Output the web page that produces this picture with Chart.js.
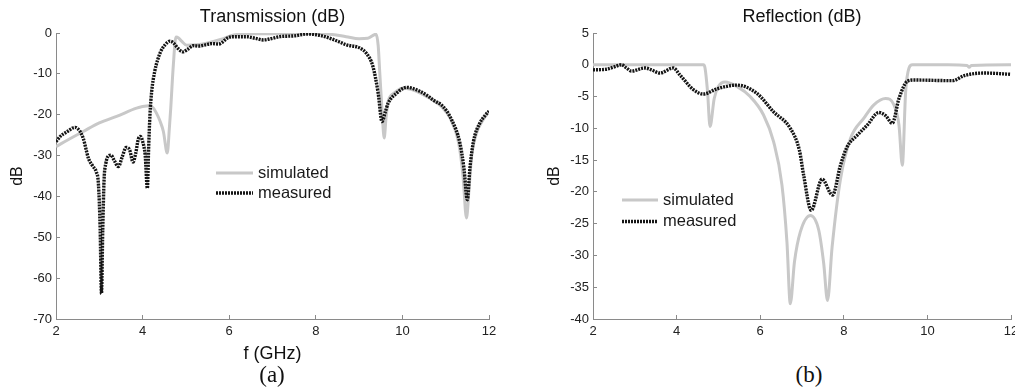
<!DOCTYPE html>
<html>
<head>
<meta charset="utf-8">
<script src="https://cdn.jsdelivr.net/npm/chart.js@4.4.1/dist/chart.umd.min.js"></script>
<style>
  html, body { margin: 0; padding: 0; background: #fff; }
  #wrap { position: relative; width: 1015px; height: 388px; overflow: hidden; }
  canvas { position: absolute; top: 0; }
  #chartA { left: 0; }
  #chartB { left: 537px; }
  .panel { position: absolute; top: 362px; width: 60px; text-align: center;
           font-family: 'Liberation Serif', 'Times New Roman', serif; font-size: 23px; color: #111; }
</style>
</head>
<body>
<div id="wrap">
  <canvas id="chartA" width="500" height="365"></canvas>
  <canvas id="chartB" width="478" height="340"></canvas>
  <div class="panel" style="left:242px">(a)</div>
  <div class="panel" style="left:779px">(b)</div>
</div>
<script>
// Transmission (dB) - panel (a)
const transSimFreq = [2.0, 2.3, 2.63, 3.0, 3.4, 3.86, 4.0, 4.17, 4.25, 4.32, 4.4, 4.48, 4.57, 4.62, 4.65, 4.71, 4.77, 4.83, 4.9, 5.02, 5.25, 5.48, 5.8, 6.1, 6.5, 7.0, 7.5, 8.0, 8.33, 8.7, 9.0, 9.2, 9.39, 9.44, 9.48, 9.53, 9.58, 9.62, 9.67, 9.8, 10.0, 10.2, 10.5, 10.7, 10.9, 11.1, 11.3, 11.4, 11.48, 11.54, 11.6, 11.71, 11.85, 12.0];
const transSimDb = [-27.8, -26.0, -24.1, -22.0, -20.4, -18.4, -18.0, -17.8, -18.4, -19.6, -21.5, -24.1, -29.4, -23.0, -18.4, -7.8, -1.0, -1.2, -2.0, -3.0, -2.9, -2.5, -1.6, -0.5, -0.2, -0.2, -0.1, -0.1, -0.3, -0.9, -1.4, -1.3, -0.3, -3.0, -10.2, -19.0, -25.7, -21.0, -16.8, -14.8, -13.5, -13.8, -15.2, -16.4, -18.0, -20.8, -27.0, -35.0, -45.3, -38.0, -30.0, -24.6, -21.5, -19.2];

const transMeasFreq = [2.0, 2.1, 2.25, 2.44, 2.55, 2.63, 2.75, 2.85, 2.93, 2.98, 3.02, 3.05, 3.08, 3.11, 3.15, 3.22, 3.27, 3.35, 3.44, 3.53, 3.62, 3.7, 3.78, 3.84, 3.9, 3.95, 4.0, 4.06, 4.11, 4.14, 4.17, 4.21, 4.28, 4.35, 4.42, 4.52, 4.63, 4.72, 4.82, 4.93, 5.05, 5.17, 5.3, 5.45, 5.6, 5.75, 5.85, 5.95, 6.1, 6.4, 6.6, 6.79, 7.0, 7.17, 7.5, 7.82, 8.1, 8.33, 8.55, 8.71, 9.02, 9.17, 9.32, 9.44, 9.53, 9.6, 9.67, 9.87, 10.1, 10.25, 10.41, 10.6, 10.71, 10.94, 11.14, 11.33, 11.42, 11.5, 11.56, 11.64, 11.79, 11.9, 12.0];
const transMeasDb = [-26.6, -25.3, -24.2, -23.1, -24.0, -25.8, -30.7, -32.6, -34.0, -37.0, -48.0, -63.8, -48.0, -36.0, -32.0, -30.0, -29.9, -31.3, -32.7, -30.3, -28.0, -28.6, -31.6, -29.5, -26.0, -25.3, -26.5, -30.0, -38.0, -28.0, -20.0, -14.3, -9.4, -6.5, -4.5, -2.9, -2.0, -2.5, -3.8, -4.6, -3.9, -3.1, -3.2, -2.9, -2.6, -2.7, -2.2, -1.3, -0.9, -0.9, -1.3, -1.7, -1.3, -0.9, -0.7, -0.25, -0.6, -1.3, -2.2, -2.9, -3.7, -5.0, -8.2, -14.7, -21.7, -19.5, -17.2, -14.7, -13.3, -13.6, -14.3, -15.5, -16.4, -18.0, -21.3, -27.0, -33.0, -40.8, -33.0, -26.6, -22.0, -20.3, -19.1];

// Reflection (dB) - panel (b)
const reflSimFreq = [2.0, 3.0, 4.0, 4.64, 4.68, 4.74, 4.8, 4.9, 5.0, 5.16, 5.44, 5.76, 6.08, 6.32, 6.52, 6.64, 6.72, 6.82, 6.96, 7.2, 7.4, 7.52, 7.61, 7.72, 7.92, 8.16, 8.48, 8.72, 9.0, 9.2, 9.32, 9.4, 9.48, 9.56, 9.64, 10.5, 10.95, 11.0, 11.05, 12.0];
const reflSimDb = [0, 0, 0, 0, -0.5, -4.2, -9.7, -5.3, -3.4, -2.7, -3.4, -5.0, -7.9, -12.1, -18.9, -27.9, -37.6, -31.0, -26.3, -23.7, -26.0, -31.3, -37.1, -28.7, -18.0, -11.6, -8.4, -6.3, -5.3, -6.3, -9.5, -15.8, -4.2, -0.5, 0, 0, -0.1, -0.4, -0.1, 0];

const reflMeasFreq = [2.0, 2.32, 2.52, 2.68, 2.8, 2.92, 3.24, 3.4, 3.6, 3.92, 4.08, 4.4, 4.64, 4.96, 5.44, 5.92, 6.32, 6.72, 6.94, 7.04, 7.22, 7.48, 7.73, 7.92, 8.08, 8.32, 8.56, 8.84, 9.0, 9.16, 9.32, 9.52, 9.68, 10.6, 10.88, 11.36, 12.0];
const reflMeasDb = [-0.8, -0.7, -0.3, 0.0, -0.5, -1.0, -0.5, -0.8, -1.3, -0.5, -1.6, -3.9, -4.6, -3.8, -3.2, -4.5, -7.4, -10.0, -13.5, -17.4, -22.9, -18.0, -20.5, -15.8, -12.9, -11.1, -9.5, -7.5, -8.0, -9.2, -5.3, -2.6, -2.4, -2.5, -1.7, -1.3, -1.5];

const freqTicks = [2, 4, 6, 8, 10, 12];
const transTicks = [0, -10, -20, -30, -40, -50, -60, -70];
const reflTicks = [5, 0, -5, -10, -15, -20, -25, -30, -35, -40];

const sans = "'Liberation Sans', Arial, sans-serif";
const axisGray = '#8a8a8a';

function toPoints(xs, ys) {
    return xs.map((x, i) => ({ x: x, y: ys[i] }));
}

// title centred over the plot area (the built-in one centres on the whole canvas)
const areaTitle = {
    id: 'areaTitle',
    afterDraw(chart, args, opts) {
        const { ctx, chartArea } = chart;
        ctx.save();
        ctx.fillStyle = '#111';
        ctx.font = opts.size + 'px ' + sans;
        ctx.textAlign = 'center';
        ctx.textBaseline = 'middle';
        ctx.fillText(opts.text, (chartArea.left + chartArea.right) / 2, opts.y);
        ctx.restore();
    }
};

// legend drawn inside the plot area, matlab style
const insideLegend = {
    id: 'insideLegend',
    afterDatasetsDraw(chart, args, opts) {
        const { ctx, chartArea } = chart;
        const x0 = chartArea.left + opts.x;
        const y0 = chartArea.top + opts.y;
        chart.data.datasets.forEach((ds, i) => {
            const y = y0 + i * opts.rowGap;
            ctx.save();
            ctx.strokeStyle = ds.borderColor;
            ctx.lineWidth = ds.borderWidth;
            ctx.setLineDash(ds.borderDash || []);
            ctx.beginPath();
            ctx.moveTo(x0, y);
            ctx.lineTo(x0 + opts.lineLen, y);
            ctx.stroke();
            ctx.setLineDash([]);
            ctx.fillStyle = '#1a1a1a';
            ctx.font = '16.5px ' + sans;
            ctx.textBaseline = 'middle';
            ctx.fillText(ds.label, x0 + opts.lineLen + 5, y);
            ctx.restore();
        });
    }
};

function makeChart(canvasId, cfg) {
    const ctx = document.getElementById(canvasId).getContext('2d');
    return new Chart(ctx, {
        type: 'line',
        data: {
            datasets: [
                {
                    label: 'simulated',
                    data: toPoints(cfg.simFreq, cfg.simDb),
                    borderColor: '#c8c8c8',
                    borderWidth: 3,
                    pointRadius: 0,
                    cubicInterpolationMode: 'monotone',
                    order: 1
                },
                {
                    label: 'measured',
                    data: toPoints(cfg.measFreq, cfg.measDb),
                    borderColor: '#151515',
                    borderWidth: 3.4,
                    borderDash: [2, 1],
                    pointRadius: 0,
                    cubicInterpolationMode: 'monotone',
                    order: 0
                }
            ]
        },
        options: {
            responsive: false,
            animation: false,
            devicePixelRatio: 1,
            layout: { padding: { top: 33, right: cfg.padRight, bottom: 0, left: 0 } },
            plugins: {
                legend: { display: false },
                tooltip: { enabled: false },
                title: { display: false },
                areaTitle: { text: cfg.title, size: 18, y: 17.5 },
                insideLegend: cfg.legend
            },
            scales: {
                x: {
                    type: 'linear',
                    min: 2,
                    max: 12,
                    afterBuildTicks: s => { s.ticks = freqTicks.map(v => ({ value: v })); },
                    afterFit: s => { s.height = cfg.xAxisHeight; s.paddingLeft = 0; s.paddingRight = 0; },
                    ticks: { color: '#222', font: { family: sans, size: 13 }, padding: 9, maxRotation: 0, autoSkip: false },
                    grid: { drawOnChartArea: false, drawTicks: true, tickLength: -4, color: axisGray },
                    border: { color: axisGray, width: 1 },
                    title: {
                        display: cfg.xTitle !== '',
                        text: cfg.xTitle,
                        color: '#111',
                        font: { family: sans, size: 18, lineHeight: 1.2 },
                        padding: { top: 4.2, bottom: 0 }
                    }
                },
                y: {
                    min: cfg.yTicks[cfg.yTicks.length - 1],
                    max: cfg.yTicks[0],
                    afterBuildTicks: s => { s.ticks = cfg.yTicks.slice().reverse().map(v => ({ value: v })); },
                    afterFit: s => { s.width = 56; },
                    ticks: { color: '#222', font: { family: sans, size: 13 }, padding: 8, autoSkip: false },
                    grid: { drawOnChartArea: false, drawTicks: true, tickLength: -4, color: axisGray },
                    border: { color: axisGray, width: 1 },
                    title: {
                        display: true,
                        text: 'dB',
                        color: '#111',
                        font: { family: sans, size: 16, lineHeight: 1.2 },
                        padding: { top: 8.4, bottom: 0 }
                    }
                }
            }
        },
        plugins: [areaTitle, insideLegend]
    });
}

try {
    makeChart('chartA', {
        title: 'Transmission (dB)',
        simFreq: transSimFreq, simDb: transSimDb,
        measFreq: transMeasFreq, measDb: transMeasDb,
        yTicks: transTicks,
        xTitle: 'f (GHz)',
        xAxisHeight: 46,
        padRight: 11,
        legend: { x: 160, y: 140, rowGap: 20, lineLen: 37 }
    });
    makeChart('chartB', {
        title: 'Reflection (dB)',
        simFreq: reflSimFreq, simDb: reflSimDb,
        measFreq: reflMeasFreq, measDb: reflMeasDb,
        yTicks: reflTicks,
        xTitle: '',
        xAxisHeight: 21,
        padRight: 4,
        legend: { x: 29, y: 167, rowGap: 21.5, lineLen: 36 }
    });
} catch (error) {
    console.error('Error creating charts:', error);
}
</script>
</body>
</html>
